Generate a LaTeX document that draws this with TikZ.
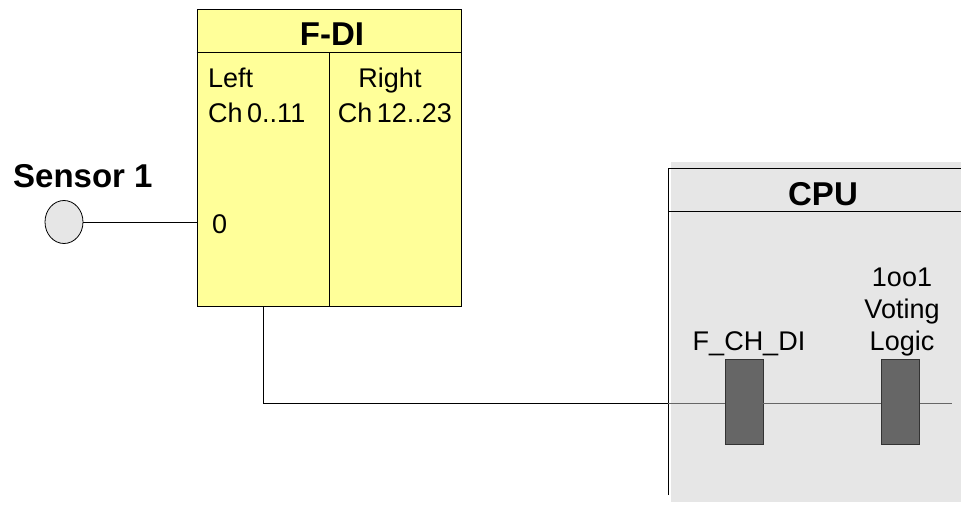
\documentclass[tikz,border=0pt]{standalone}
\usepackage{fontspec}
\setmainfont{Liberation Sans}
\usetikzlibrary{shapes.geometric}
\definecolor{fdiyellow}{HTML}{FFFF99}
\definecolor{cpugray}{HTML}{E6E6E6}
\definecolor{blockgray}{HTML}{666666}
\begin{document}
\begin{tikzpicture}[x=1pt, y=-1pt,
    modbox/.style={draw=black, line width=1pt, fill=fdiyellow,
                   minimum width=264pt, minimum height=297pt, inner sep=0pt},
    fblock/.style={draw=black!80, line width=0.8pt, fill=blockgray,
                   minimum width=38pt, minimum height=85pt, inner sep=0pt},
    ttl/.style={font=\fontsize{33}{38}\selectfont\bfseries, inner sep=0pt},
    lbl/.style={font=\fontsize{27}{32}\selectfont, inner sep=0pt},
    wire/.style={line width=0.8pt, black},
    cpuwire/.style={line width=0.8pt, black!60}
]
\useasboundingbox (0,0) rectangle (961,506);
% F-DI module
\node[modbox] (fdi) at (329,157.5) {};
\draw[line width=1pt] (fdi.west |- 0,52) -- (fdi.east |- 0,52);
\draw[line width=1pt] (329,52) -- (fdi.south);
\node[ttl, anchor=base] (fdititle) at (332,45) {F-DI};
\node[lbl, anchor=base west] (left) at (208,87) {Left};
\node[lbl, anchor=base west] (leftch) at (208,122) {Ch\,0..11};
\node[lbl, anchor=base] (right) at (390,87) {Right};
\node[lbl, anchor=base] (rightch) at (395,122) {Ch\,12..23};
\node[lbl, anchor=base west] (chan) at (212,233) {0};
% sensor
\node[draw=black, line width=0.8pt, ellipse, fill=cpugray,
      minimum width=38pt, minimum height=43pt, inner sep=0pt] (sensor) at (64,222) {};
\node[ttl, anchor=base west] (senslbl) at (13,187) {Sensor 1};
\draw[wire] (sensor.east) -- (sensor.east -| fdi.west);
% CPU
\fill[cpugray] (671,162) rectangle (961,502);
\draw[line width=1pt] (668,495) -- (668,168) -- (961,168);
\draw[line width=1pt] (668,211) -- (961,211);
\node[ttl, anchor=base] (cputitle) at (823,205) {CPU};
\node[fblock] (chdi) at (744,401.5) {};
\node[fblock] (vote) at (900.5,401.5) {};
\node[lbl, anchor=base] (chdilbl) at (749,350) {F\_CH\_DI};
\node[lbl, anchor=base, align=center] (votelbl) at (902,350)
    {1oo1\\Voting\\Logic};
% connectors
\coordinate (tap) at (263,306);
\coordinate (cpuin) at (668,403);
\coordinate (out) at (952,403);
\draw[wire] (tap) |- (cpuin);
\draw[cpuwire] (cpuin) -- (chdi.west |- cpuin);
\draw[cpuwire] (chdi.east |- cpuin) -- (vote.west |- cpuin);
\draw[cpuwire] (vote.east |- cpuin) -- (out);
\end{tikzpicture}
\end{document}
